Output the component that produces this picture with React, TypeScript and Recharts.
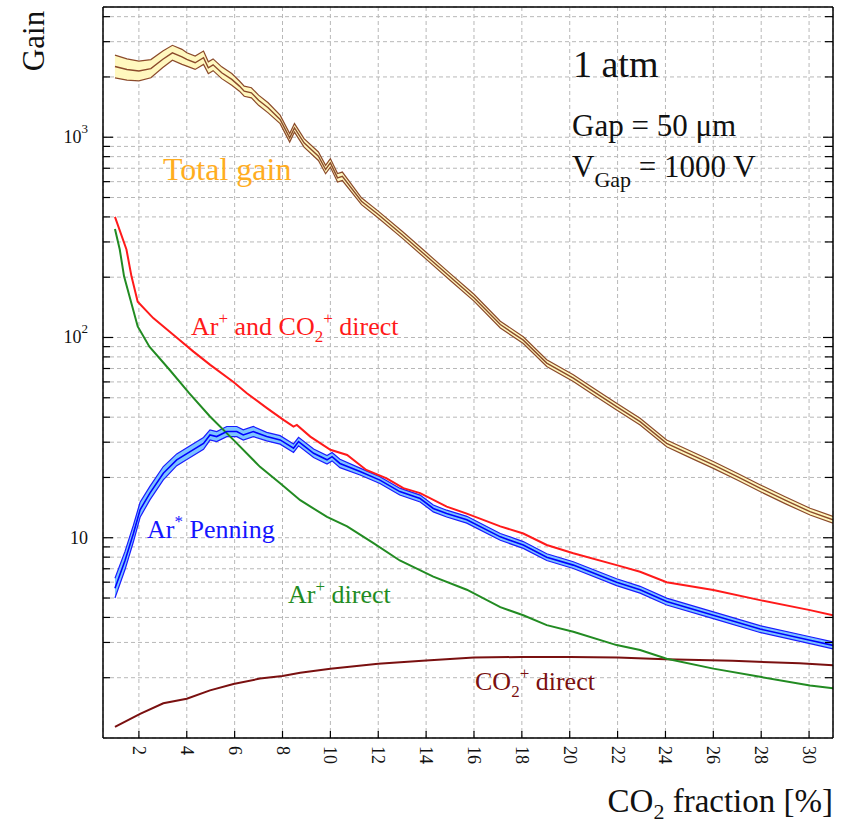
import { ComposedChart, Line, Area, XAxis, YAxis, CartesianGrid } from "recharts"

const FONT = "'Liberation Serif', 'DejaVu Serif', serif"

// axis ticks
const xTicks = [2, 4, 6, 8, 10, 12, 14, 16, 18, 20, 22, 24, 26, 28, 30]
const yTicks = [
  2, 3, 4, 5, 6, 7, 8, 9,
  10, 20, 30, 40, 50, 60, 70, 80, 90,
  100, 200, 300, 400, 500, 600, 700, 800, 900,
  1000, 2000, 3000, 4000
]
const yMajor = [10, 100, 1000]

// Total gain (with band, relative half width in %)
const totalX = [1, 1.5, 2, 2.5, 3, 3.4, 3.8, 4.0, 4.35, 4.7, 4.9, 5.1, 5.46, 5.88, 6.2, 6.4, 6.7, 7.0, 7.4, 7.9, 8.3, 8.5, 8.9, 9.5, 9.8, 10.0, 10.3, 10.5, 11.3, 12, 13, 14, 15, 16, 17.1, 18.06, 19.04, 20.15, 21, 21.96, 22.94, 24.05, 25, 26, 27, 27.95, 29, 30.04, 31]
const totalGain = [2256, 2180, 2140, 2200, 2450, 2640, 2520, 2446, 2355, 2495, 2223, 2300, 2099, 1944, 1800, 1698, 1667, 1530, 1403, 1227, 993, 1114, 937, 804, 690, 745, 627, 638, 479, 411, 326, 256, 201, 158, 116, 97, 74.5, 62.7, 53.7, 45.2, 38, 29.6, 26.2, 23.1, 20.2, 17.7, 15.4, 13.5, 12.3]
const totalErr = [14, 13, 12, 11, 10, 9, 9, 8, 8, 8, 7, 7, 7, 7, 6, 6, 6, 6, 6, 5, 5, 5, 5, 5, 5, 5, 5, 5, 4, 4, 4, 4, 4, 4, 4, 4, 4, 4, 4, 4, 4, 4, 4, 4, 4, 4, 4, 4, 4]

// Ar* Penning (with band)
const penX = [1, 1.42, 1.77, 2.05, 2.46, 3.02, 3.58, 4.14, 4.7, 4.97, 5.25, 5.67, 6.09, 6.36, 6.78, 7.34, 7.9, 8.46, 8.67, 9.3, 9.86, 10.07, 10.4, 11.24, 12.07, 12.9, 13.75, 14.3, 14.86, 15.7, 17.1, 18.06, 19.04, 20.15, 21.96, 22.94, 24.05, 26, 27.95, 30.04, 31]
const penGain = [5.6, 7.7, 10.5, 13.8, 16.7, 21, 24.5, 26.9, 29.6, 32.6, 32, 33.9, 33.9, 32.6, 33.9, 32, 30.8, 28, 30.2, 26.4, 24.5, 25.4, 23.5, 21.4, 19.4, 17, 15.7, 14, 13.2, 12.3, 10.1, 9.2, 8.0, 7.3, 6.0, 5.5, 4.8, 4.1, 3.5, 3.08, 2.9]
const penErr = [12, 11, 10, 9, 8, 8, 7, 7, 7, 6, 6, 6, 6, 6, 6, 5, 5, 5, 5, 5, 5, 5, 5, 4, 4, 4, 4, 4, 4, 4, 4, 4, 4, 4, 4, 4, 4, 4, 4, 4, 4]

// Ar+ and CO2+ direct
const arcoX = [1, 1.48, 1.69, 1.95, 2.6, 3.45, 4.28, 4.98, 5.95, 6.51, 7.35, 8.04, 8.46, 8.6, 9.16, 10, 10.7, 11.5, 12.35, 13.05, 13.75, 14.86, 15.7, 17.1, 18.06, 19.04, 20.15, 21.96, 22.94, 24.05, 26, 27.95, 30.04, 31]
const arcoGain = [400, 275, 202, 151, 125, 103, 85, 73, 60, 52.7, 44.4, 38.8, 35.9, 36.6, 32, 27.5, 25.9, 21.8, 19.8, 17.7, 16.7, 14.3, 13.2, 11.4, 10.5, 9.2, 8.36, 7.3, 6.76, 6.0, 5.48, 4.88, 4.35, 4.1]

// Ar+ direct
const arX = [1, 1.2, 1.38, 1.95, 2.44, 3.28, 4.1, 4.97, 5.95, 7.06, 7.9, 8.74, 9.86, 10.7, 11.8, 12.9, 14.3, 15.7, 17.1, 18.06, 19.04, 20.15, 21.96, 22.94, 24.05, 26, 27.95, 30.04, 31]
const arGain = [348, 275, 202, 113.5, 90, 69, 52.7, 40.3, 30.8, 22.6, 18.7, 15.4, 12.7, 11.4, 9.4, 7.7, 6.4, 5.5, 4.5, 4.1, 3.66, 3.39, 2.91, 2.75, 2.49, 2.22, 2.02, 1.83, 1.77]

// CO2+ direct
const coX = [1, 2.05, 3.02, 4.0, 4.97, 5.95, 7.06, 8.0, 8.74, 10, 12, 14, 16, 18, 20, 22, 24, 26.8, 29.6, 31]
const coGain = [1.135, 1.32, 1.49, 1.57, 1.73, 1.86, 1.98, 2.04, 2.12, 2.22, 2.35, 2.44, 2.52, 2.54, 2.54, 2.52, 2.47, 2.43, 2.36, 2.31]

const rows = (xs: number[], ys: number[], errs?: number[]) =>
  xs.map((x, i) => ({
    x,
    y: ys[i],
    band: errs ? [ys[i] / (1 + errs[i] / 100), ys[i] * (1 + errs[i] / 100)] : undefined
  }))

const totalData = rows(totalX, totalGain, totalErr)
const penData = rows(penX, penGain, penErr)
const arcoData = rows(arcoX, arcoGain)
const arData = rows(arX, arGain)
const coData = rows(coX, coGain)

const BROWN = "#8b4a2b"

function LeftTick(props: any) {
  const { x, y, payload } = props
  const v = payload.value
  const major = yMajor.includes(v)
  const exp = Math.round(Math.log10(v))
  return (
    <g>
      <line x1={x} y1={y} x2={x + (major ? 10 : 7)} y2={y} stroke="#000" strokeWidth={1.2} />
      {major && (
        <text x={x - 15} y={y + 6} textAnchor="end" fontSize={18} fontFamily={FONT} fill="#111">
          10
          {exp > 1 && (
            <tspan dy={-10} fontSize={13}>
              {exp}
            </tspan>
          )}
        </text>
      )}
    </g>
  )
}

function RightTick(props: any) {
  const { x, y, payload } = props
  const major = yMajor.includes(payload.value)
  return <line x1={x - (major ? 10 : 8)} y1={y} x2={x} y2={y} stroke="#000" strokeWidth={1.2} />
}

function BottomTick(props: any) {
  const { x, y, payload } = props
  return (
    <g>
      <line x1={x} y1={y} x2={x} y2={y - 7} stroke="#000" strokeWidth={1.2} />
      <text
        transform={`translate(${x},${y + 8}) rotate(90)`}
        textAnchor="start"
        dominantBaseline="central"
        fontSize={18}
        fontFamily={FONT}
        fill="#111"
      >
        {payload.value}
      </text>
    </g>
  )
}

function TopTick(props: any) {
  const { x, y } = props
  return <line x1={x} y1={y} x2={x} y2={y + 8} stroke="#000" strokeWidth={1.2} />
}

function Note(props: any) {
  const { children, ...rest } = props
  return (
    <text fontFamily={FONT} {...rest}>
      {children}
    </text>
  )
}

export default function App() {
  return (
    <div
      style={{
        position: "absolute",
        left: 0,
        top: 0,
        width: 842,
        height: 826,
        background: "#fff"
      }}
    >
      <ComposedChart
        width={842}
        height={826}
        margin={{ top: 6, right: 8, bottom: 0, left: 43 }}
      >
        <CartesianGrid stroke="#b8b8b8" strokeDasharray="4 3" />
        <XAxis
          dataKey="x"
          type="number"
          domain={[0.5, 31]}
          allowDataOverflow
          ticks={xTicks}
          interval={0}
          height={88}
          tickSize={0}
          tickMargin={0}
          tickLine={false}
          axisLine={{ stroke: "#000", strokeWidth: 1.5 }}
          tick={<BottomTick />}
        />
        <XAxis
          xAxisId="top"
          orientation="top"
          type="number"
          domain={[0.5, 31]}
          allowDataOverflow
          ticks={xTicks}
          interval={0}
          height={1}
          tickSize={0}
          tickMargin={0}
          tickLine={false}
          axisLine={{ stroke: "#000", strokeWidth: 1.5 }}
          tick={<TopTick />}
        />
        <YAxis
          type="number"
          scale="log"
          domain={[1, 4470]}
          allowDataOverflow
          ticks={yTicks}
          interval={0}
          width={60}
          tickSize={0}
          tickMargin={0}
          tickLine={false}
          axisLine={{ stroke: "#000", strokeWidth: 1.5 }}
          tick={<LeftTick />}
        />
        <YAxis
          yAxisId="right"
          orientation="right"
          type="number"
          scale="log"
          domain={[1, 4470]}
          allowDataOverflow
          ticks={yTicks}
          interval={0}
          width={1}
          tickSize={0}
          tickMargin={0}
          tickLine={false}
          axisLine={{ stroke: "#000", strokeWidth: 1.5 }}
          tick={<RightTick />}
        />

        <Area
          data={totalData}
          dataKey="band"
          type="linear"
          fill="#fff8bf"
          fillOpacity={1}
          stroke={BROWN}
          strokeWidth={1.2}
          isAnimationActive={false}
        />
        <Line
          data={totalData}
          dataKey="y"
          type="linear"
          stroke={BROWN}
          strokeWidth={1.4}
          dot={false}
          isAnimationActive={false}
        />

        <Line
          data={coData}
          dataKey="y"
          type="linear"
          stroke="#7a1010"
          strokeWidth={2}
          dot={false}
          isAnimationActive={false}
        />
        <Line
          data={arData}
          dataKey="y"
          type="linear"
          stroke="#228b22"
          strokeWidth={2}
          dot={false}
          isAnimationActive={false}
        />
        <Line
          data={arcoData}
          dataKey="y"
          type="linear"
          stroke="#ff1a1a"
          strokeWidth={2}
          dot={false}
          isAnimationActive={false}
        />

        <Area
          data={penData}
          dataKey="band"
          type="linear"
          fill="#7cc4ff"
          fillOpacity={1}
          stroke="#1a1aff"
          strokeWidth={1.2}
          isAnimationActive={false}
        />
        <Line
          data={penData}
          dataKey="y"
          type="linear"
          stroke="#0000ff"
          strokeWidth={1.6}
          dot={false}
          isAnimationActive={false}
        />
      </ComposedChart>

      <svg
        width={842}
        height={826}
        style={{ position: "absolute", left: 0, top: 0, pointerEvents: "none" }}
      >
        <Note transform="translate(44,41) rotate(-90)" textAnchor="middle" fontSize={31} fill="#111">
          Gain
        </Note>
        <Note x={833} y={812} textAnchor="end" fontSize={33} fill="#111">
          CO
          <tspan dy={7} fontSize={22}>2</tspan>
          <tspan dy={-7}> fraction [%]</tspan>
        </Note>

        <Note x={573} y={77} fontSize={38} fill="#111">1 atm</Note>
        <Note x={572} y={136} fontSize={31} fill="#111">Gap = 50 μm</Note>
        <Note x={572} y={177} fontSize={31} fill="#111">
          V
          <tspan dy={10} fontSize={22}>Gap</tspan>
          <tspan dy={-10}> = 1000 V</tspan>
        </Note>

        <Note x={163} y={180} fontSize={32} fill="#ffad1f">Total gain</Note>

        <Note x={191} y={335} fontSize={26} fill="#ff1a1a">
          Ar
          <tspan dy={-11} fontSize={17}>+</tspan>
          <tspan dy={11}> and CO</tspan>
          <tspan dy={7} fontSize={17}>2</tspan>
          <tspan dy={-18} fontSize={17}>+</tspan>
          <tspan dy={11}> direct</tspan>
        </Note>

        <Note x={147} y={538} fontSize={26} fill="#1515ff">
          Ar
          <tspan dy={-11} fontSize={17}>*</tspan>
          <tspan dy={11}> Penning</tspan>
        </Note>

        <Note x={288} y={603} fontSize={26} fill="#228b22">
          Ar
          <tspan dy={-11} fontSize={17}>+</tspan>
          <tspan dy={11}> direct</tspan>
        </Note>

        <Note x={475} y={690} fontSize={26} fill="#7a1010">
          CO
          <tspan dy={7} fontSize={17}>2</tspan>
          <tspan dy={-18} fontSize={17}>+</tspan>
          <tspan dy={11}> direct</tspan>
        </Note>
      </svg>
    </div>
  )
}
